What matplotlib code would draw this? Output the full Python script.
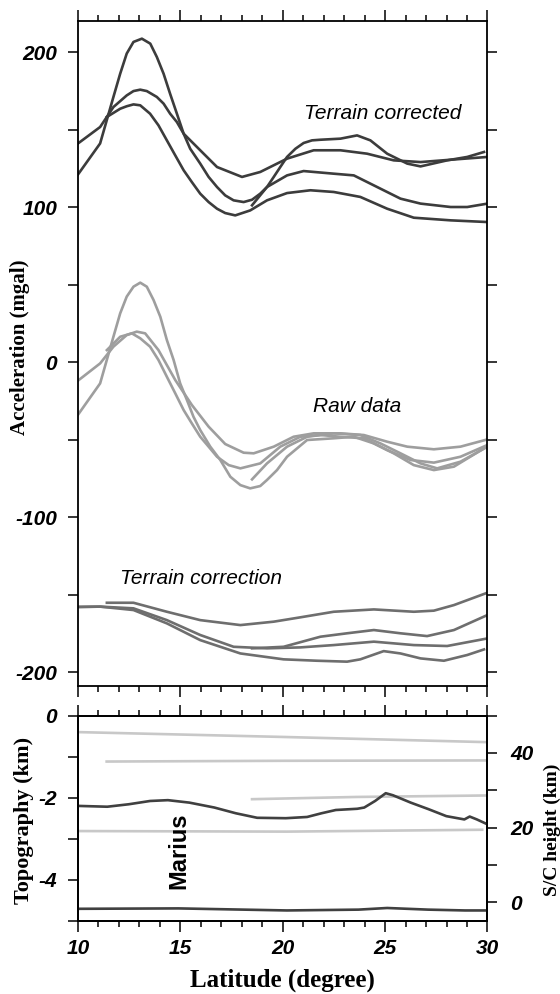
import matplotlib
matplotlib.use("Agg")
import matplotlib.pyplot as plt
from matplotlib.ticker import MultipleLocator

plt.rcParams["axes.unicode_minus"] = False

# ---- traced data: gravity along four spacecraft tracks (mgal) ----
# terrain corrected
cor_t1_lat = [10.0, 11.08, 11.73, 12.38, 12.71, 13.04, 13.36, 13.85, 14.18, 14.5, 14.83, 15.16,
              15.97, 16.79, 18.01, 18.9, 20.21, 21.51, 22.82, 24.12, 25.42, 26.73, 28.2, 30.0]
cor_t1 = [141, 151.6, 164.5, 172, 174.8, 175.7, 174.8, 171, 166.7, 160.2, 154.8, 147.3,
          136.6, 125.8, 119.4, 122.6, 131.2, 136.6, 136.6, 134.4, 130.1, 129, 130.5, 132.3]
cor_t2_lat = [11.41, 12.06, 12.38, 12.71, 13.04, 13.52, 13.93, 14.34, 14.75, 15.16, 15.56,
              15.97, 16.38, 16.79, 17.19, 17.68, 18.41, 19.23, 20.21, 21.35, 22.49, 23.79,
              25.1, 26.4, 28.2, 30.0]
cor_t2 = [158.1, 163.4, 165, 166.2, 165.6, 160.2, 152.7, 143, 133.3, 123.7, 116.1,
          108.6, 103.2, 98.9, 96.1, 94.6, 97.8, 104.3, 109, 110.8, 109.7, 106.5,
          98.9, 93.1, 91.4, 90.3]
cor_t3_lat = [18.5, 19.23, 20.21, 21.02, 22.49, 23.47, 24.61, 25.75, 26.73, 28.2, 29.01, 30.0]
cor_t3 = [101.1, 112.9, 120.4, 123.2, 121.5, 120.4, 112.9, 105.4, 102.2, 100, 100, 102.2]
cor_t4_lat = [10.0, 11.08, 11.73, 12.06, 12.38, 12.71, 13.12, 13.53, 13.85, 14.18, 14.5, 14.83,
              15.16, 15.48, 15.97, 16.38, 16.79, 17.19, 17.6, 18.09, 18.5, 18.9, 19.23,
              19.56, 19.88, 20.21, 20.62, 21.02, 21.43, 21.84, 22.82, 23.63, 24.28, 25.1,
              26.08, 26.73, 28.03, 29.01, 29.83]
cor_t4 = [121, 141, 171, 186, 199, 206.5, 208.6, 205.4, 196.8, 186, 173, 160.2,
          147.3, 137.6, 128, 119.4, 112.9, 107.5, 104.3, 103.2, 104.7, 108.6, 112.9,
          119.4, 125.8, 132.3, 137.6, 141.3, 143, 143.4, 144.1, 146.2, 143, 134.4,
          128, 126.2, 130.1, 132.3, 135.5]

# raw data
raw_t1_lat = [10.0, 11.08, 11.73, 12.38, 12.87, 13.28, 13.93, 14.75, 15.56, 16.38, 17.19,
              18.09, 18.58, 19.56, 20.53, 21.51, 22.82, 23.96, 25.1, 26.08, 27.38, 28.68, 30.0]
raw_t1 = [-12, -0.9, 9.9, 17.4, 19.6, 18.5, 7.7, -11.6, -27.7, -41.7, -52.9,
          -58.5, -58.9, -54.6, -48.2, -46, -46, -47.1, -51.4, -54.6, -56.3, -54.6, -49.9]
raw_t2_lat = [11.41, 12.06, 12.63, 13.04, 13.52, 13.93, 14.34, 14.75, 15.16, 15.56, 15.97,
              16.38, 16.79, 17.36, 17.93, 18.9, 19.88, 20.86, 21.84, 22.82, 23.96, 25.1,
              26.24, 27.38, 28.68, 30.0]
raw_t2 = [7.7, 16.3, 18.5, 15.3, 9.9, 1.3, -9.5, -20.2, -31, -39.6, -48.2,
          -54.6, -61.1, -66.5, -68.6, -65.4, -54.6, -48.2, -47.1, -48.2, -49.2, -56.8,
          -63.2, -64.9, -61.1, -53.5]
raw_t3_lat = [18.5, 19.23, 20.21, 21.19, 22.49, 23.79, 24.77, 25.75, 26.73, 27.54, 28.68, 30.0]
raw_t3 = [-75.7, -65.4, -54.6, -48.2, -46, -47.1, -52.5, -58.9, -65.4, -68.6, -64.3, -54.6]
raw_t4_lat = [10.0, 11.08, 11.73, 12.06, 12.38, 12.71, 13.04, 13.36, 13.69, 14.02, 14.34,
              14.67, 14.99, 15.32, 15.64, 15.97, 16.46, 16.95, 17.44, 17.93, 18.41, 18.9,
              19.23, 19.72, 20.21, 20.7, 21.19, 22.49, 23.47, 24.45, 25.42, 26.4, 27.38,
              28.36, 29.83]
raw_t4 = [-34, -13.8, 16.3, 31.4, 42.2, 48.6, 51.2, 48.6, 40, 29.2, 14.2,
          1.3, -13.8, -24.5, -35.3, -43.9, -54.6, -63.2, -74, -79.4, -81.5, -80,
          -76.1, -69.7, -61.1, -55.7, -50.3, -49.2, -48.2, -52.5, -58.9, -66.5, -69.7,
          -67.5, -55.7]

# terrain correction
tc_t1_lat = [10.0, 11.08, 12.71, 14.34, 15.97, 17.6, 19.23, 20.86, 22.49, 24.45, 26.4, 28.03, 30.0]
tc_t1 = [-158, -157.8, -158.9, -166.5, -176.1, -183.7, -184.7, -184.1, -182.6, -180.4,
         -182.6, -183.2, -178.3]
tc_t2_lat = [11.41, 12.71, 14.34, 15.97, 17.93, 19.56, 20.86, 22.49, 24.45, 26.4, 27.38, 28.36, 30.0]
tc_t2 = [-155.3, -155.3, -161.1, -166.5, -169.7, -167.5, -164.7, -161.1, -159.6, -161.1,
         -160.4, -156.8, -148.8]
tc_t3_lat = [18.5, 20.04, 21.84, 23.14, 24.45, 25.75, 27.05, 28.36, 30.0]
tc_t3 = [-184.7, -183.7, -177.2, -175, -172.9, -175, -176.8, -172.9, -163.2]
tc_t4_lat = [10.0, 11.08, 12.71, 14.34, 15.97, 17.93, 20.04, 21.67, 23.14, 23.79, 24.93, 25.75,
             26.73, 27.87, 29.01, 29.83]
tc_t4 = [-158, -157.8, -160, -168.6, -179.4, -188, -191.8, -192.7, -193.3, -191.8, -186.5,
         -188, -191.2, -192.7, -189, -185.4]

# topography (km) and spacecraft heights (km)
topo_lat = [10.0, 11.43, 12.48, 13.52, 14.39, 15.44, 16.66, 17.71, 18.75, 20.15, 21.19, 21.89,
            22.59, 23.64, 23.98, 24.51, 25.03, 25.38, 26.25, 27.12, 27.99, 28.87, 29.13,
            29.48, 30.0]
topo = [-2.2, -2.22, -2.16, -2.08, -2.06, -2.12, -2.24, -2.38, -2.49, -2.5, -2.47, -2.38,
        -2.3, -2.27, -2.24, -2.08, -1.89, -1.94, -2.12, -2.28, -2.45, -2.53, -2.46,
        -2.53, -2.65]
base_lat = [10.0, 14.9, 20.2, 23.7, 25.1, 27.1, 28.9, 30.0]
base = [-4.71, -4.70, -4.75, -4.73, -4.69, -4.73, -4.75, -4.75]

sc1_lat = [10.0, 20.0, 30.0]
sc1 = [45.6, 44.3, 42.9]
sc2_lat = [11.4, 20.0, 30.0]
sc2 = [37.7, 37.9, 38.0]
sc3_lat = [18.5, 23.6, 30.0]
sc3 = [27.6, 28.2, 28.6]
sc4_lat = [10.0, 20.2, 29.74]
sc4 = [19.05, 18.9, 19.4]

c_cor = "#3c3c3c"
c_raw = "#9e9e9e"
c_tc = "#6e6e6e"
c_topo = "#404040"
c_sc = "#c8c8c8"
lw = 1.9

tick_font = dict(family="Liberation Sans", weight="bold", style="italic", size=15)
lab_font = dict(family="Liberation Serif", weight="bold")

fig = plt.figure(figsize=(5.6, 9.94), dpi=100)
W, H = 560.0, 994.0
ax1 = fig.add_axes([78 / W, 1 - 686 / H, 409.5 / W, 665 / H])
ax2 = fig.add_axes([78 / W, 1 - 920.7 / H, 409.5 / W, 205 / H])
ax3 = ax2.twinx()

for lats, vals in [(cor_t1_lat, cor_t1), (cor_t2_lat, cor_t2), (cor_t3_lat, cor_t3), (cor_t4_lat, cor_t4)]:
    ax1.plot(lats, vals, color=c_cor, lw=lw, solid_joinstyle="round")
for lats, vals in [(raw_t1_lat, raw_t1), (raw_t2_lat, raw_t2), (raw_t3_lat, raw_t3), (raw_t4_lat, raw_t4)]:
    ax1.plot(lats, vals, color=c_raw, lw=lw, solid_joinstyle="round")
for lats, vals in [(tc_t1_lat, tc_t1), (tc_t2_lat, tc_t2), (tc_t3_lat, tc_t3), (tc_t4_lat, tc_t4)]:
    ax1.plot(lats, vals, color=c_tc, lw=lw, solid_joinstyle="round")

ax1.text(21.05, 160.6, "Terrain corrected", ha="left", va="center",
         family="Liberation Sans", style="italic", size=15)
ax1.text(21.5, -29, "Raw data", ha="left", va="center",
         family="Liberation Sans", style="italic", size=15)
ax1.text(12.05, -139.4, "Terrain correction", ha="left", va="center",
         family="Liberation Sans", style="italic", size=15)

ax1.set_xlim(10, 30)
ax1.set_ylim(-209, 220)
ax1.yaxis.set_major_locator(MultipleLocator(100))
ax1.yaxis.set_minor_locator(MultipleLocator(50))

# bottom panel
for lats, vals in [(sc1_lat, sc1), (sc2_lat, sc2), (sc3_lat, sc3), (sc4_lat, sc4)]:
    ax3.plot(lats, vals, color=c_sc, lw=lw)
ax2.plot(topo_lat, topo, color=c_topo, lw=lw, solid_joinstyle="round")
ax2.plot(base_lat, base, color=c_topo, lw=lw)
ax2.set_zorder(ax3.get_zorder() + 1)
ax2.patch.set_visible(False)
ax2.text(14.95, -3.3, "Marius", rotation=90, ha="center", va="center",
         family="Liberation Sans", weight="bold", size=17)

ax2.set_xlim(10, 30)
ax2.set_ylim(-5, 0)
ax2.yaxis.set_major_locator(MultipleLocator(2))
ax2.yaxis.set_minor_locator(MultipleLocator(1))
ax3.set_ylim(-5, 50)
ax3.yaxis.set_major_locator(MultipleLocator(20))
ax3.yaxis.set_minor_locator(MultipleLocator(10))

for ax in (ax1, ax2):
    ax.xaxis.set_major_locator(MultipleLocator(5))
    ax.xaxis.set_minor_locator(MultipleLocator(1))
    ax.tick_params(axis="x", which="both", direction="out", top=True, bottom=True, width=1.1)
    ax.tick_params(axis="x", which="major", length=8)
    ax.tick_params(axis="x", which="minor", length=4.5)
    ax.tick_params(axis="y", which="both", direction="out", left=True, length=7.5, width=1.1,
                   pad=7.5)

ax1.tick_params(axis="y", which="both", right=True)
ax1.tick_params(axis="x", labelbottom=False)
ax2.tick_params(axis="x", which="major", pad=5)
ax3.tick_params(axis="y", which="both", direction="out", length=7.5, width=1.1, pad=9)

for ax in (ax1, ax2, ax3):
    for sp in ax.spines.values():
        sp.set_linewidth(1.3)
    for lab in ax.get_xticklabels() + ax.get_yticklabels():
        lab.set(**tick_font)

fig.text(20 / W, 1 - 347 / H, "Acceleration (mgal)", rotation=90, ha="center", va="center",
         size=15, **lab_font)
fig.text(24 / W, 1 - 820 / H, "Topography (km)", rotation=90, ha="center", va="center",
         size=16, **lab_font)
fig.text(552 / W, 1 - 830 / H, "S/C height (km)", rotation=90, ha="center", va="center",
         size=14, **lab_font)
fig.text(282 / W, 1 - 980 / H, "Latitude (degree)", ha="center", va="center",
         size=18, **lab_font)

fig.savefig("out.png", dpi=100)
